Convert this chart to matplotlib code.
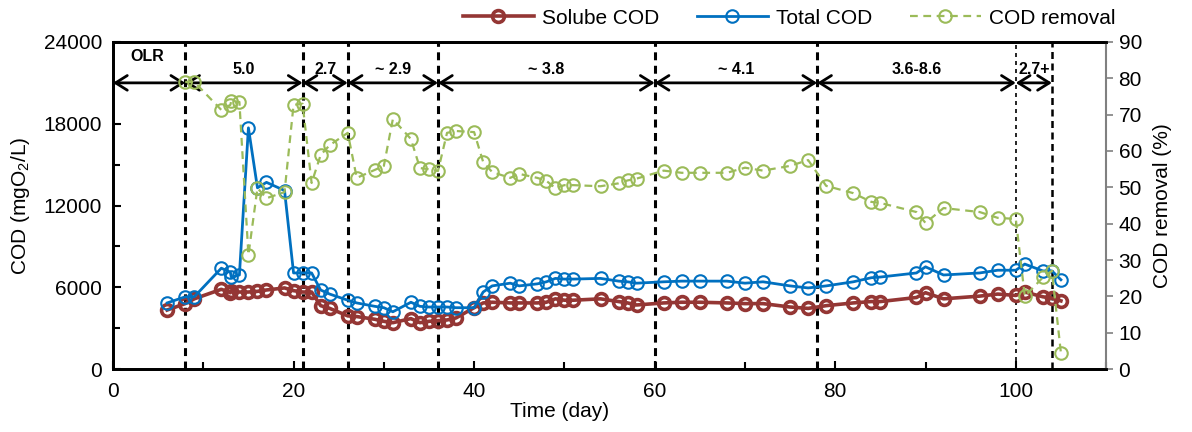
import numpy as np
import matplotlib.pyplot as plt
from matplotlib.ticker import MultipleLocator

plt.rcParams['font.family'] = ['Liberation Sans', 'DejaVu Sans']
plt.rcParams['mathtext.default'] = 'regular'

days = [6, 8, 9, 12, 13, 13.1, 14, 15, 16, 17, 19, 20, 21, 22, 23, 24, 26, 27,
        29, 30, 31, 33, 34, 35, 36, 37, 38, 40, 41, 42, 44, 45, 47, 48, 49, 50,
        51, 54, 56, 57, 58, 61, 63, 65, 68, 70, 72, 75, 77, 79, 82, 84, 85, 89,
        90, 92, 96, 98, 100, 101, 103, 104, 105]

soluble_cod = [4330, 4800, 5150, 5850, 5600, 5750, 5650, 5650, 5700, 5800, 5950,
               5750, 5650, 5650, 4650, 4450, 3900, 3850, 3650, 3500, 3400, 3700,
               3400, 3500, 3550, 3600, 3750, 4500, 4850, 4900, 4850, 4850, 4850,
               4900, 5150, 5050, 5050, 5150, 4950, 4850, 4700, 4850, 4900, 4900,
               4850, 4800, 4800, 4550, 4450, 4650, 4850, 4950, 4950, 5250, 5600,
               5150, 5350, 5500, 5400, 5650, 5300, 5200, 5000]

total_cod = [4850, 5300, 5300, 7400, 7100, 6750, 6900, 17700, 13300, 13700, 13100,
             7050, 7050, 7050, 5800, 5500, 5050, 4850, 4600, 4500, 4200, 4900,
             4600, 4550, 4550, 4550, 4500, 4500, 5650, 6100, 6300, 6100, 6250,
             6400, 6650, 6600, 6600, 6650, 6450, 6400, 6300, 6400, 6450, 6450,
             6450, 6300, 6400, 6100, 5950, 6100, 6400, 6700, 6750, 7050, 7500,
             6900, 7050, 7250, 7250, 7700, 7200, 7200, 6550]

cod_removal = [np.nan, 79.0, 79.0, 71.3, 72.7, 73.8, 73.5, 31.4, 49.8, 47.0, 48.7,
               72.7, 73.0, 51.2, 58.9, 61.6, 65.0, 52.6, 54.8, 55.9, 68.8, 63.3,
               55.3, 55.0, 54.5, 65.0, 65.5, 65.2, 57.0, 54.2, 52.6, 53.7, 52.6,
               51.8, 49.8, 50.6, 50.6, 50.3, 51.1, 51.9, 52.4, 54.6, 54.0, 54.0,
               54.0, 55.4, 54.6, 55.9, 57.5, 50.4, 48.4, 46.0, 45.7, 43.2, 40.2,
               44.3, 43.2, 41.6, 41.3, 20.0, 25.2, 27.0, 4.4]

# organic loading rate periods
olr_edges = [0, 8, 21, 26, 36, 60, 78, 100, 104]
olr_labels = ['5.0', '2.7', '~ 2.9', '~ 3.8', '~ 4.1', '3.6-8.6', '2.7+']

red = '#943634'
blue = '#0070C0'
green = '#9BBB59'

fig = plt.figure(figsize=(11.92, 4.32), dpi=100)
ax = fig.add_axes([0.0948, 0.1458, 0.8331, 0.757])
ax2 = ax.twinx()

# period boundaries
for d in olr_edges[1:]:
    if d == 100:
        ax.axvline(d, color='black', lw=1.2, dashes=(2.4, 2.4), zorder=1)
    elif d == 104:
        ax.axvline(d, color='black', lw=1.8, dashes=(2.8, 1.8), zorder=1)
    else:
        ax.axvline(d, color='black', lw=2.2, dashes=(2.6, 1.8), zorder=1)

# double arrows for each period
arrow_y = 21000
for x0, x1 in zip(olr_edges[:-1], olr_edges[1:]):
    ax.annotate('', xy=(x1, arrow_y), xytext=(x0, arrow_y),
                arrowprops=dict(arrowstyle='<->,head_length=0.35,head_width=0.22',
                                lw=2, color='black',
                                mutation_scale=24, shrinkA=0, shrinkB=0),
                zorder=2)
for x0, x1, lab in zip(olr_edges[1:-1], olr_edges[2:], olr_labels):
    ax.text((x0 + x1) / 2, 22000, lab, ha='center', va='center',
            fontsize=11.5, fontweight='bold')
ax.text(3.8, 22900, 'OLR', ha='center', va='center', fontsize=11.5,
        fontweight='bold')

l1, = ax.plot(days, soluble_cod, color=red, lw=2.6, marker='o', ms=8.5,
              mfc='none', mec=red, mew=2.6, label='Solube COD', zorder=3)
l2, = ax.plot(days, total_cod, color=blue, lw=2.0, marker='o', ms=9,
              mfc='none', mec=blue, mew=1.5, label='Total COD', zorder=4)
l3, = ax2.plot(days, cod_removal, color=green, lw=1.6, dashes=(3.5, 2.5),
               marker='o', ms=9, mfc='none', mec=green, mew=1.5,
               label='COD removal', zorder=5)

ax.set_xlim(0, 110)
ax.set_ylim(0, 24000)
ax2.set_ylim(0, 90)
ax.xaxis.set_major_locator(MultipleLocator(20))
ax.xaxis.set_minor_locator(MultipleLocator(10))
ax.set_xticks([0, 20, 40, 60, 80, 100])
ax.yaxis.set_major_locator(MultipleLocator(6000))
ax.yaxis.set_minor_locator(MultipleLocator(3000))
ax2.yaxis.set_major_locator(MultipleLocator(10))

ax.tick_params(axis='both', which='both', direction='in', labelsize=15,
               width=1.5, pad=8)
ax.tick_params(axis='both', which='major', length=6)
ax.tick_params(axis='both', which='minor', length=5)
ax.tick_params(axis='x', pad=9)
ax2.tick_params(axis='y', direction='out', length=5, width=1.2,
                color='#808080', labelsize=15, pad=4)

for s in ['left', 'bottom', 'top']:
    ax.spines[s].set_linewidth(2)
    ax2.spines[s].set_linewidth(2)
ax2.spines['right'].set_color('#808080')
ax2.spines['right'].set_linewidth(1.5)
ax.spines['right'].set_visible(False)

ax.set_ylabel('COD (mgO$_2$/L)', fontsize=15, labelpad=8)
ax2.set_ylabel('COD removal (%)', fontsize=15, labelpad=8)
ax.set_xlabel('Time (day)', fontsize=15, labelpad=0)
ax.xaxis.set_label_coords(0.45, -0.1)

fig.legend(handles=[l1, l2, l3], loc='center', bbox_to_anchor=(0.662, 0.958),
           ncol=3, frameon=False, fontsize=15, handlelength=3.4,
           handletextpad=0.4, columnspacing=1.8)

plt.savefig('out.png', dpi=100)
